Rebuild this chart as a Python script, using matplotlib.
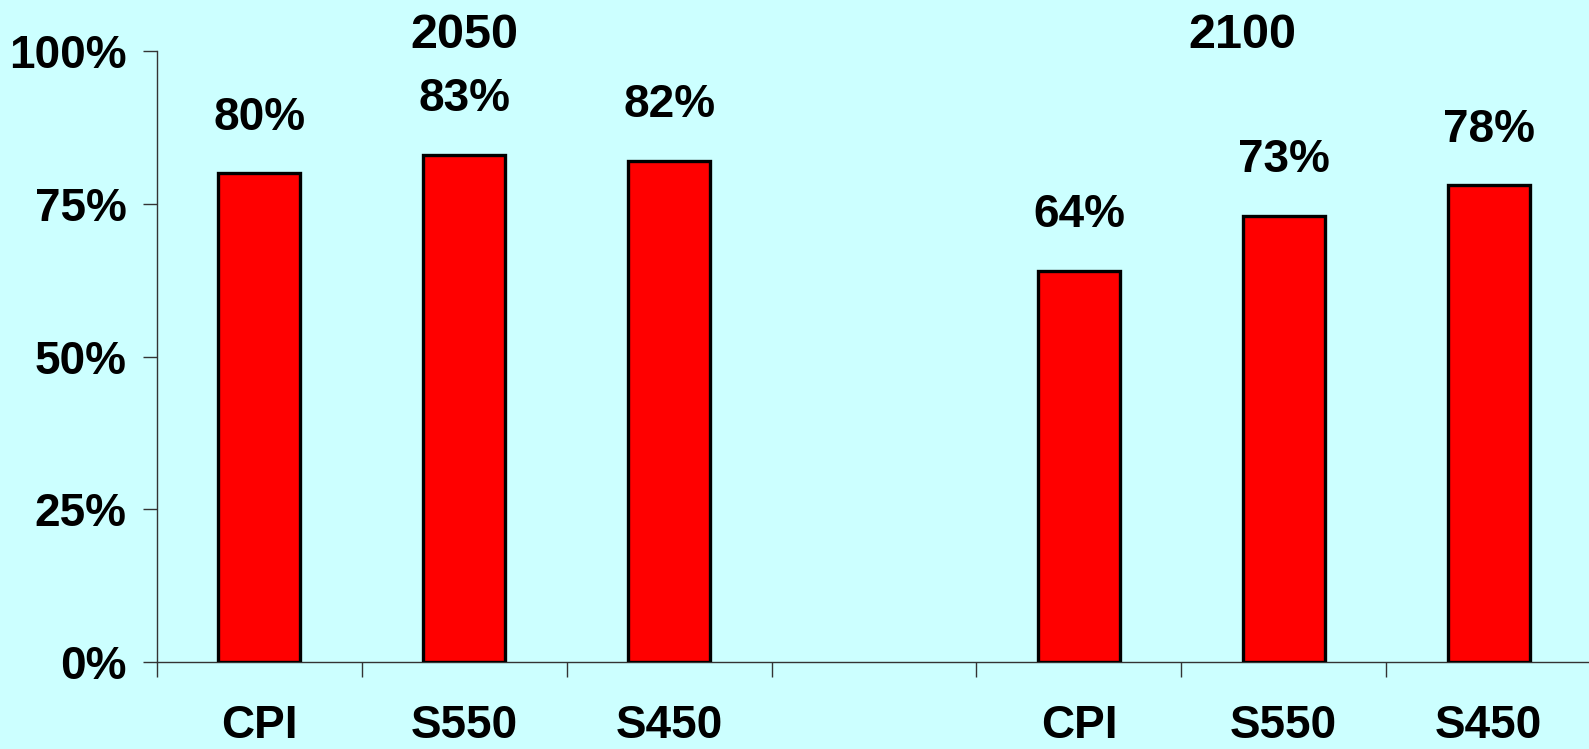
import matplotlib.pyplot as plt
from matplotlib.ticker import FixedLocator

plt.rcParams.update({
    "font.family": ["Liberation Sans", "DejaVu Sans"],
    "font.weight": "bold",
})

scenarios = ["CPI", "S550", "S450"]
years = ["2050", "2100"]
share_2050 = [80, 83, 82]
share_2100 = [64, 73, 78]
yticks = [0, 25, 50, 75, 100]

BG = "#CCFFFF"

fig = plt.figure(figsize=(15.89, 7.49), dpi=100, facecolor=BG)
ax = fig.add_axes([157 / 1589, 1 - 662 / 749, 1 - 157 / 1589, (662 - 51) / 749])
ax.set_facecolor(BG)

x_2050 = [0, 1, 2]
x_2100 = [4, 5, 6]
for xs, vals in ((x_2050, share_2050), (x_2100, share_2100)):
    ax.bar(xs, vals, width=0.4, color="#FF0000", edgecolor="black",
           linewidth=2.4, zorder=3)
    for x, v in zip(xs, vals):
        ax.text(x, v + 5.5, f"{v}%", ha="center", va="bottom",
                fontsize=33, fontweight="bold", zorder=4)

# year headers above each group
for x, yr in zip([1, 4.8], years):
    ax.text(x, 102.6, yr, ha="center", va="center", fontsize=35,
            fontweight="bold", clip_on=False)

ax.set_xlim(-0.5, 6.49)
ax.set_ylim(0, 100)

ax.set_yticks(yticks)
ax.set_yticklabels([f"{t}%" for t in yticks], fontsize=33, fontweight="bold")
ax.tick_params(axis="y", direction="out", length=10, width=1, pad=12,
               color="#333333")

ax.set_xticks(x_2050 + x_2100)
ax.set_xticklabels(scenarios + scenarios, fontsize=33, fontweight="bold")
ax.tick_params(axis="x", which="major", length=0, pad=30)
ax.xaxis.set_minor_locator(FixedLocator([-0.5, 0.5, 1.5, 2.5, 3.5, 4.5, 5.5]))
ax.tick_params(axis="x", which="minor", direction="out", length=11, width=1,
               color="#333333")

for s in ("top", "right"):
    ax.spines[s].set_visible(False)
for s in ("left", "bottom"):
    ax.spines[s].set_color("#333333")
    ax.spines[s].set_linewidth(1)

fig.savefig("out.png", dpi=100, facecolor=BG)
